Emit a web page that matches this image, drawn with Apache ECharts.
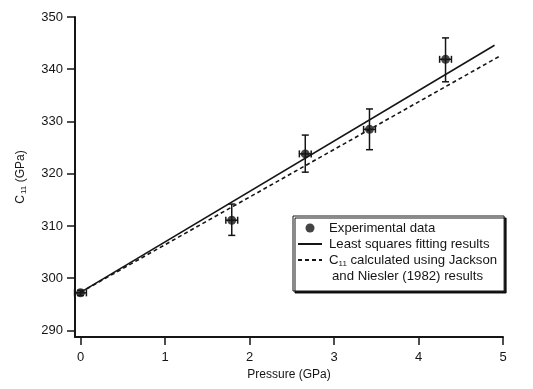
<!DOCTYPE html>
<html>
<head>
<meta charset="utf-8">
<script src="https://cdn.jsdelivr.net/npm/echarts@6/dist/echarts.min.js"></script>
<style>html,body{margin:0;padding:0;background:#fff;}#c{width:533px;height:389px;}</style>
</head>
<body>
<div id="c"></div>
<script>
// Experimental data (pressure GPa, C11 GPa) with error bounds
const pressure   = [0,     1.79,  2.66,  3.42,  4.32];
const c11        = [297.2, 311.1, 323.8, 328.5, 341.9];
const c11Low     = [296.7, 308.2, 320.3, 324.6, 337.6];
const c11High    = [297.7, 314.2, 327.4, 332.4, 346.0];
const pressLow   = [-0.07, 1.72,  2.59,  3.35,  4.25];
const pressHigh  = [0.07,  1.86,  2.73,  3.49,  4.39];
// Least squares fit line endpoints
const fitX = [0, 4.9];
const fitY = [297.3, 344.6];
// Jackson and Niesler (1982) calculated line endpoints
const jnX = [0, 4.96];
const jnY = [297.3, 342.5];
// Axis ticks
const xTicks = [0, 1, 2, 3, 4, 5];
const yTicks = [290, 300, 310, 320, 330, 340, 350];

const FONT = 'Liberation Sans';
const INK = '#151515';

const names = ['Experimental data', 'Least squares fitting results', 'C11 calculated using Jackson and Niesler (1982) results'];

const chart = echarts.init(document.getElementById('c'), null, {renderer: 'canvas'});
chart.setOption({
  animation: false,
  backgroundColor: '#ffffff',
  grid: {left: 75, right: 30, top: 17, bottom: 52},
  xAxis: {
    type: 'value', min: -0.065, max: 5,
    name: 'Pressure (GPa)', nameLocation: 'middle', nameGap: 31,
    nameTextStyle: {fontFamily: FONT, fontSize: 12, color: INK},
    axisLine: {show: true, onZero: false, lineStyle: {color: INK, width: 2}},
    axisTick: {show: true, length: 8, customValues: xTicks, lineStyle: {color: INK, width: 1.5}},
    axisLabel: {customValues: xTicks, margin: 14, fontFamily: FONT, fontSize: 13, color: INK},
    splitLine: {show: false}
  },
  yAxis: {
    type: 'value', min: 288.75, max: 350,
    name: '{a|C}{s|11}{a| (GPa)}', nameLocation: 'middle', nameGap: 47, nameRotate: 90,
    nameTextStyle: {fontFamily: FONT, fontSize: 12, color: INK,
      rich: {a: {fontFamily: FONT, fontSize: 12, color: INK}, s: {fontFamily: FONT, fontSize: 8, color: INK, padding: [6, 0, 0, 1]}}},
    axisLine: {show: true, onZero: false, lineStyle: {color: INK, width: 2}},
    axisTick: {show: true, length: 8, customValues: yTicks, lineStyle: {color: INK, width: 1.5}},
    axisLabel: {customValues: yTicks, margin: 12, fontFamily: FONT, fontSize: 13, color: INK},
    splitLine: {show: false}
  },
  legend: {
    orient: 'vertical', left: 293, top: 216,
    data: names,
    backgroundColor: '#ffffff', borderColor: INK, borderWidth: 1,
    shadowColor: 'rgba(0,0,0,0.9)', shadowOffsetX: 2, shadowOffsetY: 2, shadowBlur: 0,
    padding: [4, 7, 23, 4], itemGap: 0, itemWidth: 24, itemHeight: 9,
    textStyle: {fontFamily: FONT, fontSize: 13.2, color: INK, lineHeight: 16, padding: [0, 0, 0, 2],
      rich: {a: {fontFamily: FONT, fontSize: 13.2, color: INK, lineHeight: 16},
             s: {fontFamily: FONT, fontSize: 8, color: INK, lineHeight: 16, padding: [7, 0, 0, 0]}}},
    formatter: function (n) {
      if (n === names[2]) return '{a|C}{s|11}{a| calculated using Jackson}';
      return n;
    },
    selectedMode: false
  },
  graphic: [{
    type: 'text', left: 332, top: 270, z: 100,
    style: {text: 'and Niesler (1982) results', font: '13.2px "' + FONT + '"', fill: INK}
  }],
  series: [
    {
      name: names[1], type: 'line', symbol: 'none', z: 3,
      data: fitX.map((x, i) => [x, fitY[i]]),
      itemStyle: {color: INK, opacity: 0},
      lineStyle: {color: INK, width: 1.6, opacity: 1}
    },
    {
      name: names[2], type: 'line', symbol: 'none', z: 3,
      data: jnX.map((x, i) => [x, jnY[i]]),
      itemStyle: {color: INK, opacity: 0},
      lineStyle: {color: INK, width: 1.6, type: [4, 3], opacity: 1}
    },
    {
      name: 'errors', type: 'custom', z: 4, clip: false,
      data: pressure.map((x, i) => [x, c11[i], c11Low[i], c11High[i], pressLow[i], pressHigh[i]]),
      renderItem: function (params, api) {
        const x = api.value(0), y = api.value(1);
        const pB = api.coord([x, api.value(2)]), pT = api.coord([x, api.value(3)]);
        const pL = api.coord([api.value(4), y]), pR = api.coord([api.value(5), y]);
        const cap = 3.5;
        const st = {stroke: INK, lineWidth: 1.5};
        const L = (x1, y1, x2, y2) => ({type: 'line', shape: {x1, y1, x2, y2}, style: st});
        return {type: 'group', children: [
          L(pB[0], pB[1], pT[0], pT[1]),
          L(pB[0] - cap, pB[1], pB[0] + cap, pB[1]),
          L(pT[0] - cap, pT[1], pT[0] + cap, pT[1]),
          L(pL[0], pL[1], pR[0], pR[1]),
          L(pL[0], pL[1] - cap, pL[0], pL[1] + cap),
          L(pR[0], pR[1] - cap, pR[0], pR[1] + cap)
        ]};
      }
    },
    {
      name: names[0], type: 'scatter', z: 5, symbol: 'circle', symbolSize: 9,
      data: pressure.map((x, i) => [x, c11[i]]),
      itemStyle: {color: INK}
    }
  ]
});
</script>
</body>
</html>
